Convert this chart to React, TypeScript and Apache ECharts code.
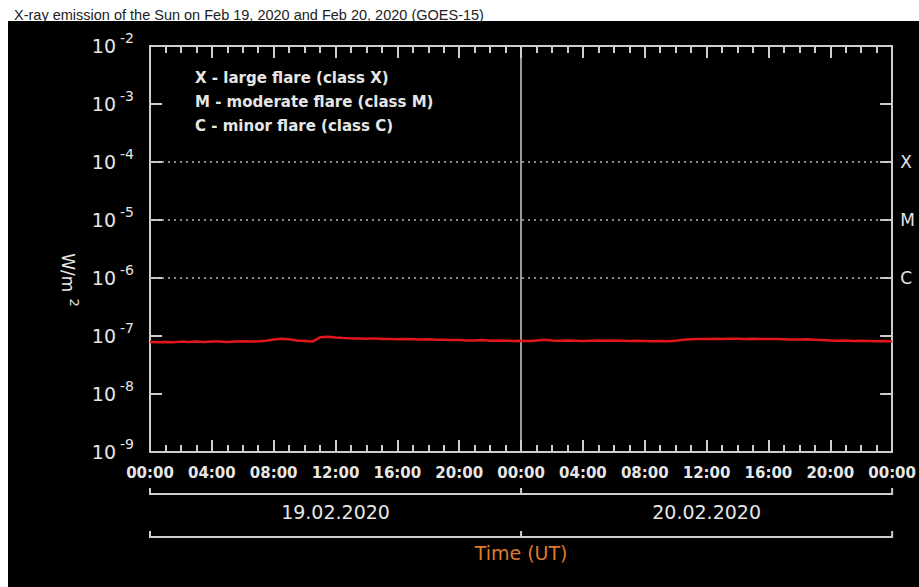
import React, { useEffect, useRef } from "react";
import * as echarts from "echarts";

const TITLE = "X-ray emission of the Sun on Feb 19, 2020 and Feb 20, 2020 (GOES-15)";

// time in hours since 19.02.2020 00:00 UT
const hours: number[] = [
  0, 0.5, 1, 1.5, 2, 2.5, 3, 3.5, 4, 4.5, 5, 5.5, 6, 6.5, 7, 7.5, 8, 8.5, 9, 9.5,
  10, 10.5, 11, 11.5, 12, 12.5, 13, 13.5, 14, 14.5, 15, 15.5, 16, 16.5, 17, 17.5,
  18, 18.5, 19, 19.5, 20, 20.5, 21, 21.5, 22, 22.5, 23, 23.5, 24, 24.5, 25, 25.5,
  26, 26.5, 27, 27.5, 28, 28.5, 29, 29.5, 30, 30.5, 31, 31.5, 32, 32.5, 33, 33.5,
  34, 34.5, 35, 35.5, 36, 36.5, 37, 37.5, 38, 38.5, 39, 39.5, 40, 40.5, 41, 41.5,
  42, 42.5, 43, 43.5, 44, 44.5, 45, 45.5, 46, 46.5, 47, 47.5, 48,
];

// X-ray flux in units of 1e-8 W/m^2
const fluxE8: number[] = [
  7.9, 7.8, 7.9, 7.8, 8.0, 7.9, 8.0, 7.9, 8.0, 8.0, 7.9, 8.0, 8.1, 8.0, 8.1, 8.3,
  8.7, 9.0, 8.8, 8.4, 8.2, 8.0, 9.5, 9.7, 9.4, 9.2, 9.1, 9.1, 9.0, 9.1, 8.9, 8.9,
  8.8, 8.9, 8.8, 8.7, 8.8, 8.6, 8.6, 8.5, 8.5, 8.4, 8.4, 8.5, 8.3, 8.4, 8.3, 8.2,
  8.3, 8.2, 8.4, 8.6, 8.4, 8.3, 8.4, 8.3, 8.2, 8.3, 8.4, 8.3, 8.4, 8.3, 8.2, 8.3,
  8.2, 8.1, 8.2, 8.1, 8.3, 8.6, 8.8, 8.9, 8.9, 9.0, 8.9, 9.0, 9.0, 8.9, 9.0, 8.9,
  8.9, 8.9, 8.8, 8.7, 8.7, 8.8, 8.6, 8.5, 8.4, 8.3, 8.4, 8.2, 8.3, 8.2, 8.1, 8.2,
  8.0,
];

const yDecades: number[] = [1e-9, 1e-8, 1e-7, 1e-6, 1e-5, 1e-4, 1e-3, 1e-2];
const flareClasses: string[] = ["X", "M", "C"];
const flareLevels: number[] = [1e-4, 1e-5, 1e-6];
const legendLines: string[] = [
  "X - large flare (class X)",
  "M - moderate flare (class M)",
  "C - minor flare (class C)",
];
const dayLabels: string[] = ["19.02.2020", "20.02.2020"];
const dayBounds: number[] = [0, 24, 48];
const xAxisTitle = "Time (UT)";
const yMin = 1e-9;
const yMax = 1e-2;

const AXIS = "#cdcdcd";
const TEXT = "#e6e6e6";
const FONT = "DejaVu Sans";

export default function App() {
  const ref = useRef<HTMLDivElement>(null);

  useEffect(() => {
    const chart = echarts.init(ref.current!, null, { renderer: "svg" });
    const pad = (n: number) => (n < 10 ? "0" + n : "" + n);

    const xBase = () => ({
      type: "value",
      min: 0,
      max: 48,
      interval: 4,
      axisLine: { show: true, onZero: false, lineStyle: { color: AXIS, width: 2 } },
      axisTick: { show: true, inside: true, length: 12, lineStyle: { color: AXIS, width: 2 } },
      minorTick: { show: true, splitNumber: 4, length: 7, lineStyle: { color: AXIS, width: 2 } },
      splitLine: { show: false },
      minorSplitLine: { show: false },
    });
    const yBase = () => ({
      type: "log",
      logBase: 10,
      min: yMin,
      max: yMax,
      interval: 1,
      axisLine: { show: true, onZero: false, lineStyle: { color: AXIS, width: 2 } },
      splitLine: { show: false },
    });

    const markData: any[] = flareLevels.map((lv, i) => ({
      yAxis: lv,
      lineStyle: { type: [2, 4], color: "#b8b8b8", width: 1.5 },
      label: {
        show: true,
        position: "end",
        distance: 8,
        formatter: flareClasses[i],
        color: TEXT,
        fontFamily: FONT,
        fontSize: 17,
      },
    }));
    markData.push({
      xAxis: dayBounds[1],
      lineStyle: { type: "solid", color: AXIS, width: 1.5 },
      label: { show: false },
    });

    const option: any = {
      animation: false,
      backgroundColor: "#ffffff",
      title: {
        text: TITLE,
        left: 9,
        top: 2,
        textStyle: { fontFamily: "Liberation Sans", fontSize: 14.5, fontWeight: "normal", color: "#222" },
      },
      grid: { left: 150, right: 24, top: 46, bottom: 135 },
      xAxis: [
        {
          ...xBase(),
          position: "bottom",
          axisLabel: {
            show: true,
            color: TEXT,
            fontFamily: FONT,
            fontWeight: "bold",
            fontSize: 15,
            margin: 13,
            showMinLabel: true,
            showMaxLabel: true,
            formatter: (v: number) => pad(v % 24) + ":00",
          },
        },
        { ...xBase(), position: "top", axisLabel: { show: false } },
      ],
      yAxis: [
        {
          ...yBase(),
          position: "left",
          axisTick: { show: false },
          axisLabel: {
            show: true,
            margin: 16,
            formatter: (v: number) => `{b|10}{s|${Math.round(Math.log10(v))}}`,
            rich: {
              b: { fontSize: 19, fontFamily: FONT, color: TEXT, lineHeight: 30 },
              s: { fontSize: 14, fontFamily: FONT, color: TEXT, verticalAlign: "top", padding: [0, 0, 0, 4] },
            },
          },
        },
        {
          ...yBase(),
          position: "right",
          axisTick: { show: true, inside: true, length: 12, lineStyle: { color: AXIS, width: 2 } },
          axisLabel: { show: false },
        },
      ],
      series: [
        {
          type: "line",
          xAxisIndex: 0,
          yAxisIndex: 0,
          data: hours.map((h, i) => [h, fluxE8[i] * 1e-8]),
          showSymbol: false,
          lineStyle: { color: "#e3161c", width: 2.5 },
          z: 5,
          markLine: { silent: true, precision: 20, symbol: ["none", "none"], data: markData },
        },
      ],
    };
    chart.setOption(option);

    const px = (h: number) => chart.convertToPixel({ xAxisIndex: 0 }, h) as number;
    const py = (v: number) => chart.convertToPixel({ yAxisIndex: 0 }, v) as number;
    const xs = dayBounds.map(px);
    const bracket = (y: number, id: string) => [
      {
        type: "polyline",
        id: id + "a",
        silent: true,
        shape: { points: [[xs[0], y - 6], [xs[0], y], [xs[2], y], [xs[2], y - 6]] },
        style: { stroke: AXIS, lineWidth: 2, fill: null },
      },
      {
        type: "line",
        id: id + "b",
        silent: true,
        shape: { x1: xs[1], y1: y - 6, x2: xs[1], y2: y },
        style: { stroke: AXIS, lineWidth: 2 },
      },
    ];

    const graphic: any[] = [
      {
        type: "rect",
        id: "bg",
        z: -100,
        silent: true,
        shape: { x: 8, y: 21, width: 911, height: 566 },
        style: { fill: "#000000" },
      },
      // left decade ticks, pointing into the plot
      ...yDecades.map((d, i) => {
        const y = py(d);
        return {
          type: "line",
          id: "ltick" + i,
          silent: true,
          shape: { x1: xs[0], y1: y, x2: xs[0] + 12, y2: y },
          style: { stroke: AXIS, lineWidth: 2 },
        };
      }),
      ...legendLines.map((t, i) => ({
        type: "text",
        id: "leg" + i,
        x: 195,
        y: 78 + 24 * i,
        silent: true,
        style: {
          text: t,
          fill: TEXT,
          font: `bold 15px "${FONT}"`,
          verticalAlign: "middle",
          align: "left",
        },
      })),
      {
        type: "text",
        id: "yname",
        x: 68,
        y: 280,
        rotation: -Math.PI / 2,
        silent: true,
        style: {
          text: "{a|W/m}{b|2}",
          fill: TEXT,
          align: "center",
          verticalAlign: "middle",
          rich: {
            a: { fontSize: 17, fontFamily: FONT, fill: TEXT, lineHeight: 26 },
            b: { fontSize: 13, fontFamily: FONT, fill: TEXT, verticalAlign: "top", padding: [0, 0, 0, 6] },
          },
        },
      },
      ...bracket(494, "br1"),
      ...bracket(537, "br2"),
      ...dayLabels.map((d, i) => ({
        type: "text",
        id: "day" + i,
        x: (xs[i] + xs[i + 1]) / 2,
        y: 512,
        silent: true,
        style: {
          text: d,
          fill: TEXT,
          font: `19px "${FONT}"`,
          align: "center",
          verticalAlign: "middle",
        },
      })),
      {
        type: "text",
        id: "xname",
        x: xs[1],
        y: 553,
        silent: true,
        style: {
          text: xAxisTitle,
          fill: "#dd7a2c",
          font: `19px "${FONT}"`,
          align: "center",
          verticalAlign: "middle",
        },
      },
    ];
    chart.setOption({ graphic });

    return () => chart.dispose();
  }, []);

  return (
    <div
      ref={ref}
      style={{ position: "absolute", left: 0, top: 0, width: 919, height: 587, background: "#fff" }}
    />
  );
}
